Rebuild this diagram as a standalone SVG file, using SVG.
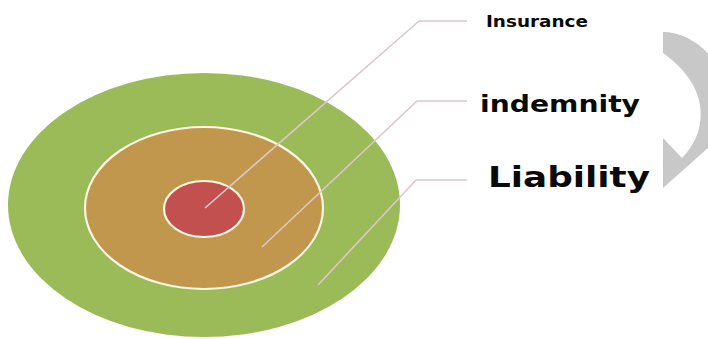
<svg xmlns="http://www.w3.org/2000/svg" width="708" height="339" viewBox="0 0 708 339">
  <style>
    .ring { stroke: #fbf6e4; stroke-width: 2.2; }
    .leader { fill: none; stroke: #dec6ca; stroke-width: 1.6; stroke-linejoin: round; }
    .label { font-family: "DejaVu Sans", "Open Sans", sans-serif; font-weight: bold; fill: #0a0a0a; }
  </style>
  <rect width="708" height="339" fill="#ffffff"/>

  <!-- curved arrow shape at the right edge -->
  <path id="arc-arrow" d="M663,32 C688,32 712,50 725,80 L725,133 L663,188 L663,138 L682,158 C705,135 715,90 663,53 Z" fill="#c8c8c8"/>

  <g id="liability-ring">
    <ellipse cx="204" cy="205" rx="196" ry="132" fill="#9bbb59"/>
  </g>
  <g id="indemnity-ring">
    <ellipse class="ring" cx="204" cy="208" rx="119" ry="81" fill="#c0974c"/>
  </g>
  <g id="insurance-core">
    <ellipse class="ring" cx="204" cy="209" rx="40" ry="28" fill="#c2504e"/>
  </g>

  <g id="connectors">
    <polyline class="leader" points="205,208 419,21 467,21"/>
    <polyline class="leader" points="262,247 417,101 467,101"/>
    <polyline class="leader" points="318,285 416,180 467,180"/>
  </g>

  <g id="labels">
    <text class="label" x="486" y="27" font-size="16" textLength="102" lengthAdjust="spacingAndGlyphs">Insurance</text>
    <text class="label" x="480" y="112" font-size="23" textLength="160" lengthAdjust="spacingAndGlyphs">indemnity</text>
    <text class="label" x="488" y="187" font-size="29" textLength="162" lengthAdjust="spacingAndGlyphs">Liability</text>
  </g>
</svg>
